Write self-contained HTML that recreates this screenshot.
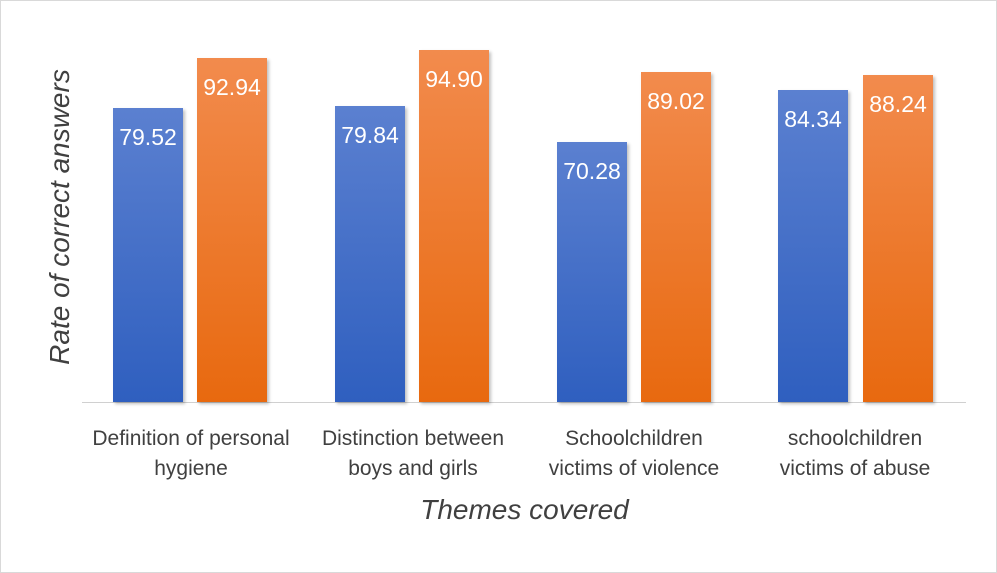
<!DOCTYPE html>
<html><head><style>
body{margin:0;width:997px;height:573px;background:#fff;overflow:hidden;font-family:"Liberation Sans",sans-serif;}
.frame{position:absolute;left:0;top:0;width:995px;height:571px;border:1px solid #d9d9d9;}
.bar{position:absolute;bottom:171px;width:70px;box-shadow:2px 2px 3px rgba(0,0,0,0.25);}
.b{background:linear-gradient(#5b80d0,#2f5fbf);}
.o{background:linear-gradient(#f28b4d,#e8690f);}
.v{position:absolute;top:16px;width:100%;text-align:center;color:#fff;font-size:23px;}
.cat{position:absolute;top:424px;width:240px;text-align:center;font-size:21px;color:#404040;line-height:30px;}
</style></head><body>
<div class="frame"></div>
<div style="position:absolute;left:82px;top:402px;width:884px;height:1px;background:#d0d0d0"></div>
<div class="bar b" style="left:113px;height:294px"><div class="v">79.52</div></div>
<div class="bar o" style="left:197px;height:344px"><div class="v">92.94</div></div>
<div class="bar b" style="left:335px;height:296px"><div class="v">79.84</div></div>
<div class="bar o" style="left:419px;height:352px"><div class="v">94.90</div></div>
<div class="bar b" style="left:557px;height:260px"><div class="v">70.28</div></div>
<div class="bar o" style="left:641px;height:330px"><div class="v">89.02</div></div>
<div class="bar b" style="left:778px;height:312px"><div class="v">84.34</div></div>
<div class="bar o" style="left:863px;height:327px"><div class="v">88.24</div></div>
<div class="cat" style="left:71px">Definition of personal<br>hygiene</div>
<div class="cat" style="left:293px">Distinction between<br>boys and girls</div>
<div class="cat" style="left:514px">Schoolchildren<br>victims of violence</div>
<div class="cat" style="left:735px">schoolchildren<br>victims of abuse</div>
<div style="position:absolute;left:0;width:997px;top:494px;text-align:center;font-size:28px;font-style:italic;color:#404040;padding-left:52px;box-sizing:border-box">Themes covered</div>
<div style="position:absolute;left:60px;top:217px;transform:translate(-50%,-50%) rotate(-90deg);white-space:nowrap;font-size:28px;font-style:italic;color:#404040">Rate of correct answers</div>
</body></html>
